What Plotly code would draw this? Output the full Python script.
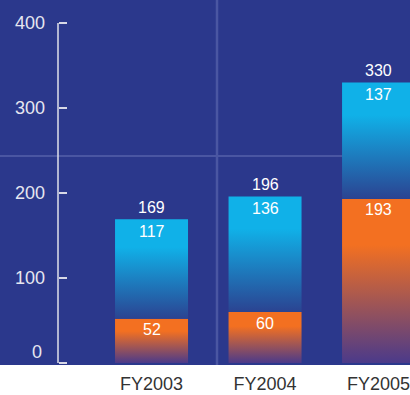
import plotly.graph_objects as go

categories = ["FY2003", "FY2004", "FY2005"]
orange_vals = [52, 60, 193]
blue_vals = [117, 136, 137]
totals = [169, 196, 330]
y_ticks = [0, 100, 200, 300, 400]

BG = "#2b388c"
BAR_W = 0.643
orange_scale = [[0, "#4b3a8a"], [0.72, "#f37021"], [1, "#f37021"]]
blue_scale = [[0, "#2b4391"], [0.72, "#10b1e8"], [1, "#10b1e8"]]

fig = go.Figure()

def seg(xc, base, top, scale):
    x0, x1 = xc - BAR_W / 2, xc + BAR_W / 2
    fig.add_trace(go.Scatter(
        x=[x0, x1, x1, x0, x0], y=[base, base, top, top, base],
        mode="lines", fill="toself", line=dict(width=0),
        fillgradient=dict(type="vertical", colorscale=scale),
        hoverinfo="skip", showlegend=False))

annotations = []
for i, cat in enumerate(categories):
    o, b, t = orange_vals[i], blue_vals[i], totals[i]
    seg(i, 0, o, orange_scale)
    seg(i, o, o + b, blue_scale)
    annotations.append(dict(x=i, y=o + b, text=str(t), showarrow=False,
                            yshift=12, font=dict(size=16, color="white")))
    annotations.append(dict(x=i, y=o + b, text=str(b), showarrow=False,
                            yshift=-12, font=dict(size=16, color="white")))
    annotations.append(dict(x=i, y=o, text=str(o), showarrow=False,
                            yshift=-11, font=dict(size=16, color="white")))

AX = 58 / 410
annotations.append(dict(x=AX, xref="paper", y=0, yref="y", text="0",
                        showarrow=False, xanchor="right", xshift=-14, yshift=11,
                        font=dict(size=18, color="#e6e6f0")))

shapes = [
    dict(type="line", xref="paper", yref="paper", x0=217 / 410, x1=217 / 410,
         y0=0, y1=1, line=dict(color="#4a56a2", width=2.5), layer="below"),
    dict(type="line", xref="paper", yref="paper", x0=0, x1=1,
         y0=(365 - 156) / 365, y1=(365 - 156) / 365,
         line=dict(color="#4a56a2", width=2), layer="below"),
    dict(type="line", xref="paper", yref="y", x0=AX, x1=AX, y0=0, y1=400,
         line=dict(color="#e0e0ea", width=1.5)),
]

fig.update_layout(
    width=410, height=395,
    margin=dict(l=0, r=0, t=0, b=30),
    paper_bgcolor="white", plot_bgcolor=BG,
    font=dict(family="Liberation Sans, Arial, sans-serif"),
    showlegend=False,
    annotations=annotations, shapes=shapes,
    xaxis=dict(range=[-1.335, 2.277], tickvals=[0, 1, 2], ticktext=categories,
               showgrid=False, zeroline=False, showline=False, ticks="",
               tickfont=dict(size=18, color="#333333"), automargin=False,
               ticklabeloverflow="allow", ticklabelstandoff=6, fixedrange=True),
    yaxis=dict(range=[-2.35, 427.06], tickvals=y_ticks,
               ticktext=["" if v == 0 else str(v) for v in y_ticks],
               anchor="free", position=AX, showgrid=False, zeroline=False,
               showline=False, ticks="inside", ticklen=8, tickwidth=1.5,
               tickcolor="#d8d8e6", tickfont=dict(size=18, color="#e6e6f0"),
               automargin=False, ticklabelstandoff=13, fixedrange=True),
)

fig.write_html("out.html")
